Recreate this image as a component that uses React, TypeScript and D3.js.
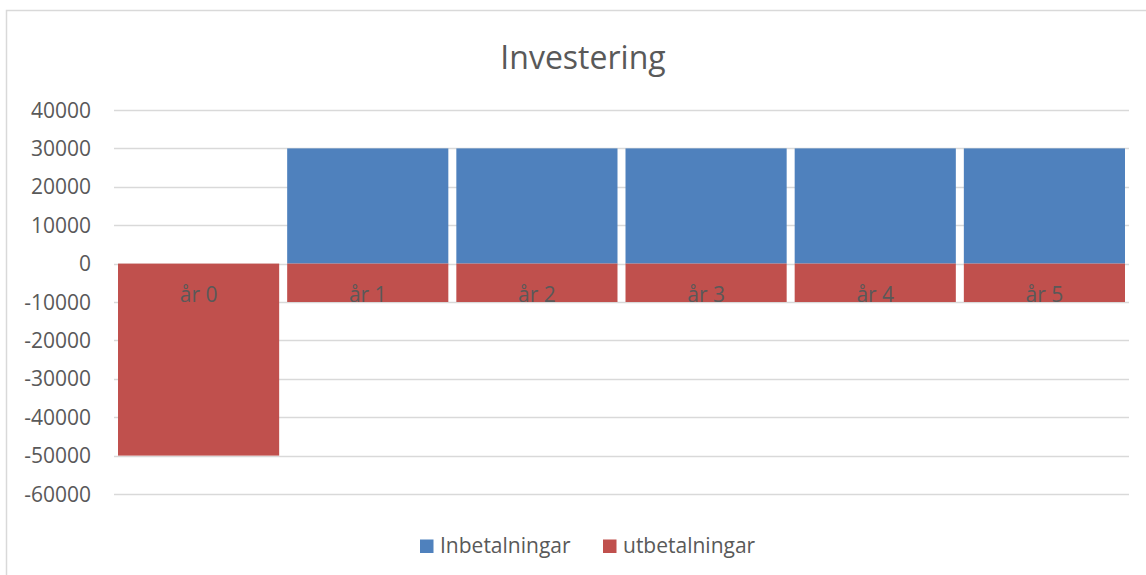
import * as d3 from "d3";

const categories = ["år 0", "år 1", "år 2", "år 3", "år 4", "år 5"];
const inbetalningar = [0, 30000, 30000, 30000, 30000, 30000];
const utbetalningar = [-50000, -10000, -10000, -10000, -10000, -10000];
const yTicks = [40000, 30000, 20000, 10000, 0, -10000, -20000, -30000, -40000, -50000, -60000];
const seriesNames = ["Inbetalningar", "utbetalningar"];
const seriesColors = ["#4f81bd", "#c0504d"];

const W = 1146;
const H = 575;
const FONT = "'Open Sans', sans-serif";
const TEXT = "#595959";
const GRID = "#d9d9d9";

export default function App() {
  const rows = categories.map((c, i) => ({ cat: c, Inbetalningar: inbetalningar[i], utbetalningar: utbetalningar[i] }));

  const stacked = d3.stack<any>()
    .keys(seriesNames)
    .offset(d3.stackOffsetDiverging)(rows);

  const x = d3.scaleBand<string>()
    .domain(categories)
    .range([114, 1129])
    .paddingInner(8 / 169)
    .paddingOuter(4 / 169);

  const y = d3.scaleLinear().domain([-60000, 40000]).range([494, 110]);

  return (
    <svg width={W} height={H} style={{ position: "absolute", left: 0, top: 0, background: "#fff" }} fontFamily={FONT}>
      {/* chart area border (right and bottom run off the picture) */}
      <rect x={6.5} y={10.5} width={W + 20} height={H + 20} fill="#fff" stroke={GRID} strokeWidth={1.5} />

      <text x={583} y={69} textAnchor="middle" fontSize={32} fill={TEXT}>Investering</text>

      {/* gridlines */}
      {yTicks.map((t) => (
        <line key={t} x1={114} x2={1129} y1={Math.round(y(t)) + 0.5} y2={Math.round(y(t)) + 0.5} stroke={GRID} strokeWidth={1.3} />
      ))}

      {/* y tick labels */}
      {yTicks.map((t) => (
        <text key={"l" + t} x={91} y={y(t)} dy="0.36em" textAnchor="end" fontSize={21} fill={TEXT}>{t}</text>
      ))}

      {/* bars */}
      {stacked.map((s, si) => (
        <g key={s.key} fill={seriesColors[si]}>
          {s.map((d, i) => {
            const top = y(Math.max(d[0], d[1]));
            const bot = y(Math.min(d[0], d[1]));
            if (bot - top <= 0) return null;
            return (
              <rect key={i} x={x(categories[i])!} y={top} width={x.bandwidth()} height={bot - top} />
            );
          })}
        </g>
      ))}

      {/* category labels next to the zero axis */}
      {categories.map((c) => (
        <text key={c} x={x(c)! + x.bandwidth() / 2} y={y(0) + 38} textAnchor="middle" fontSize={21} fill={TEXT}>{c}</text>
      ))}

      {/* legend */}
      <rect x={420} y={539.5} width={13.5} height={13.5} fill={seriesColors[0]} />
      <text x={440} y={553} fontSize={21} fill={TEXT}>{seriesNames[0]}</text>
      <rect x={603} y={539.5} width={13.5} height={13.5} fill={seriesColors[1]} />
      <text x={623} y={553} fontSize={21} fill={TEXT}>{seriesNames[1]}</text>
    </svg>
  );
}
